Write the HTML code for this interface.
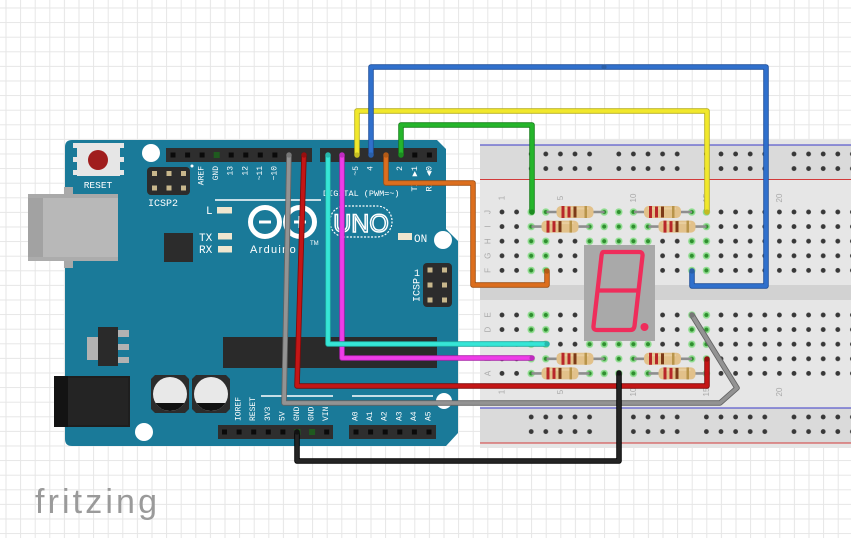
<!DOCTYPE html>
<html><head><meta charset="utf-8">
<style>html,body{margin:0;padding:0;background:#fff;overflow:hidden}svg{display:block}</style>
</head>
<body>
<svg width="851" height="538" viewBox="0 0 851 538" xmlns="http://www.w3.org/2000/svg">
<defs>
<pattern id="grid" x="5.5" y="7.5" width="14.6" height="14.6" patternUnits="userSpaceOnUse"><path d="M0 0.5H14.6M0.5 0V14.6" stroke="#e6e6e6" stroke-width="1" fill="none"/></pattern>
<pattern id="hu" x="494.7" y="204.7" width="14.6" height="14.6" patternUnits="userSpaceOnUse"><circle cx="7.3" cy="7.3" r="2.4" fill="#383838"/></pattern>
<pattern id="hl" x="494.7" y="307.7" width="14.6" height="14.6" patternUnits="userSpaceOnUse"><circle cx="7.3" cy="7.3" r="2.4" fill="#383838"/></pattern>
<pattern id="gu" x="494.7" y="204.7" width="14.6" height="14.6" patternUnits="userSpaceOnUse"><circle cx="7.3" cy="7.3" r="3.7" fill="#8fdc8f"/><circle cx="7.3" cy="7.3" r="2.1" fill="#2f8f2f"/></pattern>
<pattern id="gl" x="494.7" y="307.7" width="14.6" height="14.6" patternUnits="userSpaceOnUse"><circle cx="7.3" cy="7.3" r="3.7" fill="#8fdc8f"/><circle cx="7.3" cy="7.3" r="2.1" fill="#2f8f2f"/></pattern>
<pattern id="rt" x="523.9" y="146.7" width="87.6" height="14.6" patternUnits="userSpaceOnUse"><g fill="#383838"><circle cx="7.3" cy="7.3" r="2.4"/><circle cx="21.9" cy="7.3" r="2.4"/><circle cx="36.5" cy="7.3" r="2.4"/><circle cx="51.1" cy="7.3" r="2.4"/><circle cx="65.7" cy="7.3" r="2.4"/></g></pattern>
<pattern id="rb" x="523.9" y="409.7" width="87.6" height="14.6" patternUnits="userSpaceOnUse"><g fill="#383838"><circle cx="7.3" cy="7.3" r="2.4"/><circle cx="21.9" cy="7.3" r="2.4"/><circle cx="36.5" cy="7.3" r="2.4"/><circle cx="51.1" cy="7.3" r="2.4"/><circle cx="65.7" cy="7.3" r="2.4"/></g></pattern>
<rect id="pin" width="5" height="5" fill="#0a0a0a"/>
<rect id="tp" width="5" height="5" fill="#c8b78c"/>
<g id="res">
  <line x1="0" y1="0" x2="58" y2="0" stroke="#8e8e8e" stroke-width="2.6"/>
  <rect x="10" y="-6" width="37" height="12" rx="4.5" fill="#e2c18a"/>
  <rect x="14" y="-4.5" width="28" height="2" fill="#ecd3a6" opacity="0.7"/>
  <rect x="15" y="-6" width="3" height="12" fill="#b8262a"/>
  <rect x="21" y="-5.5" width="3" height="11" fill="#b8262a"/>
  <rect x="27" y="-5.5" width="3" height="11" fill="#7c3a18"/>
  <rect x="38" y="-6" width="2.5" height="12" fill="#b8944a"/>
</g>
</defs>

<!-- background grid -->
<rect width="851" height="538" fill="#fff"/>
<rect width="851" height="538" fill="url(#grid)"/>

<!-- ================= ARDUINO ================= -->
<path d="M72,140 H437 L446,149 V229 L458,241 V433 L446,446 H72 Q65,446 65,439 V147 Q65,140 72,140 Z" fill="#1a7a99"/>

<!-- USB -->
<rect x="64" y="187" width="9" height="8" fill="#a9a9a9"/>
<rect x="64" y="260" width="9" height="8" fill="#a9a9a9"/>
<rect x="28" y="194" width="90" height="67" fill="#b8b8b8"/>
<rect x="28" y="194" width="15" height="67" fill="#a2a2a2"/>
<rect x="28" y="194" width="90" height="4" fill="#a9a9a9"/>
<rect x="28" y="257" width="90" height="4" fill="#acacac"/>

<!-- reset -->
<g fill="#e6e6e6">
<rect x="73" y="143" width="4" height="5"/><rect x="73" y="157" width="4" height="5"/><rect x="73" y="170" width="4" height="5"/>
<rect x="120" y="143" width="4" height="5"/><rect x="120" y="157" width="4" height="5"/><rect x="120" y="170" width="4" height="5"/>
<rect x="77" y="143" width="43" height="33"/>
</g>
<circle cx="98" cy="160" r="10" fill="#a01d1d"/>
<text x="98" y="188" font-family="Liberation Mono, monospace" font-size="9.5" fill="#fff" text-anchor="middle">RESET</text>

<!-- mount holes -->
<circle cx="151" cy="153" r="9" fill="#fff"/>
<circle cx="443" cy="240" r="9" fill="#fff"/>
<circle cx="144" cy="432" r="9" fill="#fff"/>
<circle cx="444" cy="401" r="8" fill="#fff"/>

<!-- ICSP2 -->
<rect x="147" y="167" width="43" height="28" rx="4" fill="#2c2c2c"/>
<use href="#tp" x="152" y="171"/><use href="#tp" x="166.5" y="171"/><use href="#tp" x="181" y="171"/>
<use href="#tp" x="152" y="185.5"/><use href="#tp" x="166.5" y="185.5"/><use href="#tp" x="181" y="185.5"/>
<circle cx="192" cy="166" r="1.5" fill="#fff"/>
<text x="148" y="206" font-family="Liberation Mono, monospace" font-size="10" fill="#fff">ICSP2</text>

<!-- top headers -->
<rect x="166" y="148" width="146" height="14" fill="#2e2e2e"/>
<rect x="320" y="148" width="117" height="14" fill="#2e2e2e"/>
<use href="#pin" x="170.5" y="152.5"/><use href="#pin" x="185.1" y="152.5"/><use href="#pin" x="199.6" y="152.5"/>
<rect x="213.7" y="152" width="6" height="6" fill="#1f5a1f"/>
<use href="#pin" x="228.7" y="152.5"/><use href="#pin" x="243.3" y="152.5"/><use href="#pin" x="257.8" y="152.5"/><use href="#pin" x="272.4" y="152.5"/>
<use href="#pin" x="412.3" y="152.5"/><use href="#pin" x="426.9" y="152.5"/>
<g font-family="Liberation Mono, DejaVu Sans Mono, monospace" font-size="8" fill="#fff" text-anchor="end" dominant-baseline="central">
<text transform="translate(202.1,166) rotate(-90)">AREF</text>
<text transform="translate(216.7,166) rotate(-90)">GND</text>
<text transform="translate(231.2,166) rotate(-90)">13</text>
<text transform="translate(245.8,166) rotate(-90)">12</text>
<text transform="translate(260.3,166) rotate(-90)">~11</text>
<text transform="translate(274.9,166) rotate(-90)">~10</text>
<text transform="translate(356.6,166) rotate(-90)">~5</text>
<text transform="translate(371.2,166) rotate(-90)">4</text>
<text transform="translate(400.3,166) rotate(-90)">2</text>
<text transform="translate(414.8,166) rotate(-90)" font-size="8.5">TX ▶1</text>
<text transform="translate(429.4,166) rotate(-90)" font-size="8.5">RX ◀0</text>
</g>
<line x1="215" y1="200" x2="321" y2="200" stroke="#fff" stroke-width="1.5"/>
<text x="323" y="196" font-family="Liberation Mono, monospace" font-size="8.5" fill="#fff">DIGITAL (PWM=~)</text>

<!-- LEDs -->
<g font-family="Liberation Mono, monospace" font-size="11" fill="#fff">
<text x="206" y="214">L</text>
<text x="199" y="241">TX</text>
<text x="199" y="253">RX</text>
<text x="414" y="242">ON</text>
</g>
<g fill="#efe6cf">
<rect x="217" y="207" width="15" height="6.5"/>
<rect x="218" y="233" width="14" height="6.5"/>
<rect x="218" y="246" width="14" height="6.5"/>
<rect x="398" y="233" width="14" height="7"/>
</g>

<!-- 16U2 chip -->
<rect x="164" y="233" width="29" height="29" fill="#2c2c2c"/>

<!-- Arduino logo -->
<circle cx="265" cy="222" r="14.5" fill="none" stroke="#fff" stroke-width="5"/>
<circle cx="300" cy="222" r="14.5" fill="none" stroke="#fff" stroke-width="5"/>
<rect x="259" y="220.5" width="12" height="3" fill="#fff"/>
<rect x="294" y="220.5" width="12" height="3" fill="#fff"/>
<rect x="298.5" y="216" width="3" height="12" fill="#fff"/>
<text x="250" y="253" font-family="Liberation Sans, sans-serif" font-size="11" fill="#fff" letter-spacing="1.3">Arduino</text>
<text x="310" y="245" font-family="Liberation Sans, sans-serif" font-size="6" fill="#fff">TM</text>
<rect x="330" y="206" width="62" height="31" rx="15" fill="none" stroke="#fff" stroke-width="1.2" stroke-dasharray="2 1.5"/>
<text x="361" y="232" font-family="Liberation Sans, sans-serif" font-size="25" fill="none" stroke="#fff" stroke-width="1.5" text-anchor="middle">UNO</text>

<!-- ICSP right -->
<rect x="423" y="263" width="29" height="44" rx="4" fill="#2c2c2c"/>
<use href="#tp" x="427.5" y="267.5"/><use href="#tp" x="442" y="267.5"/>
<use href="#tp" x="427.5" y="282.5"/><use href="#tp" x="442" y="282.5"/>
<use href="#tp" x="427.5" y="297.5"/><use href="#tp" x="442" y="297.5"/>
<text x="414" y="276" font-family="Liberation Mono, monospace" font-size="10" fill="#fff">1</text>
<text transform="translate(418,290) rotate(-90)" font-family="Liberation Mono, monospace" font-size="10" fill="#fff" text-anchor="middle" dominant-baseline="central">ICSP</text>

<!-- regulator -->
<rect x="87" y="337" width="12" height="23" fill="#b2b2b2"/>
<rect x="118" y="330" width="11" height="7" fill="#b2b2b2"/>
<rect x="118" y="344" width="11" height="6" fill="#b2b2b2"/>
<rect x="118" y="357" width="11" height="6" fill="#b2b2b2"/>
<rect x="98" y="327" width="20" height="39" fill="#2a2a2a"/>

<!-- power jack -->
<rect x="54" y="376" width="76" height="51" fill="#1e1e1e"/>
<rect x="54" y="376" width="14" height="51" fill="#131313"/>
<rect x="68" y="378" width="60" height="47" fill="#242424"/>

<!-- capacitors -->
<path d="M155,375 H185 L189,379 V409 L185,413 H155 L151,409 V379 Z" fill="#2c2c2c"/>
<circle cx="170" cy="394" r="17" fill="#e8e8e8"/>
<path d="M155.6,403 A17,17 0 0 0 184.4,403 Z" fill="#111"/>
<path d="M196,375 H226 L230,379 V409 L226,413 H196 L192,409 V379 Z" fill="#2c2c2c"/>
<circle cx="211" cy="394" r="17" fill="#e8e8e8"/>
<path d="M196.6,403 A17,17 0 0 0 225.4,403 Z" fill="#111"/>

<!-- big chip -->
<rect x="223" y="337" width="214" height="31" fill="#2a2a2a"/>

<!-- bottom headers -->
<line x1="261" y1="396" x2="333" y2="396" stroke="#fff" stroke-width="1.5"/>
<line x1="352" y1="396" x2="433" y2="396" stroke="#fff" stroke-width="1.5"/>
<rect x="218" y="425" width="115" height="14" fill="#2e2e2e"/>
<rect x="349" y="425" width="87" height="14" fill="#2e2e2e"/>
<use href="#pin" x="222" y="429.5"/><use href="#pin" x="236.6" y="429.5"/><use href="#pin" x="251.2" y="429.5"/><use href="#pin" x="265.8" y="429.5"/><use href="#pin" x="280.4" y="429.5"/>
<rect x="294.5" y="429" width="6" height="6" fill="#1f5a1f"/>
<rect x="309.1" y="429" width="6" height="6" fill="#1f5a1f"/>
<use href="#pin" x="324.2" y="429.5"/>
<use href="#pin" x="353.5" y="429.5"/><use href="#pin" x="368.1" y="429.5"/><use href="#pin" x="382.7" y="429.5"/><use href="#pin" x="397.3" y="429.5"/><use href="#pin" x="411.9" y="429.5"/><use href="#pin" x="426.5" y="429.5"/>
<g font-family="Liberation Mono, monospace" font-size="8" fill="#fff" text-anchor="start" dominant-baseline="central">
<text transform="translate(239.1,421) rotate(-90)">IOREF</text>
<text transform="translate(253.7,421) rotate(-90)">RESET</text>
<text transform="translate(268.3,421) rotate(-90)">3V3</text>
<text transform="translate(282.9,421) rotate(-90)">5V</text>
<text transform="translate(297.5,421) rotate(-90)">GND</text>
<text transform="translate(312.1,421) rotate(-90)">GND</text>
<text transform="translate(326.7,421) rotate(-90)">VIN</text>
<text transform="translate(356,421) rotate(-90)">A0</text>
<text transform="translate(370.6,421) rotate(-90)">A1</text>
<text transform="translate(385.2,421) rotate(-90)">A2</text>
<text transform="translate(399.8,421) rotate(-90)">A3</text>
<text transform="translate(414.4,421) rotate(-90)">A4</text>
<text transform="translate(429,421) rotate(-90)">A5</text>
</g>

<!-- ================= BREADBOARD ================= -->
<rect x="480" y="140" width="380" height="308" fill="#e6e6e6"/>
<rect x="480" y="145" width="380" height="35" fill="#dadada"/>
<rect x="480" y="285" width="380" height="15" fill="#d2d2d2"/>
<rect x="480" y="408" width="380" height="35" fill="#dadada"/>
<line x1="480" y1="145" x2="851" y2="145" stroke="#3a3ac8" stroke-width="1"/>
<line x1="480" y1="179.5" x2="851" y2="179.5" stroke="#d23a3a" stroke-width="1"/>
<line x1="480" y1="408" x2="851" y2="408" stroke="#3a3ac8" stroke-width="1"/>
<line x1="480" y1="443" x2="851" y2="443" stroke="#d23a3a" stroke-width="1"/>

<rect x="494.7" y="204.7" width="360" height="73" fill="url(#hu)"/>
<rect x="494.7" y="307.7" width="360" height="73" fill="url(#hl)"/>
<rect x="523.9" y="146.7" width="330" height="29.2" fill="url(#rt)"/>
<rect x="523.9" y="409.7" width="330" height="29.2" fill="url(#rb)"/>
<!-- connected (green) columns -->
<rect x="523.9" y="204.7" width="29.2" height="73" fill="url(#gu)"/>
<rect x="582.3" y="204.7" width="73" height="73" fill="url(#gu)"/>
<rect x="684.5" y="204.7" width="29.2" height="73" fill="url(#gu)"/>
<rect x="523.9" y="307.7" width="29.2" height="73" fill="url(#gl)"/>
<rect x="582.3" y="307.7" width="73" height="73" fill="url(#gl)"/>
<rect x="684.5" y="307.7" width="29.2" height="73" fill="url(#gl)"/>

<!-- labels -->
<g font-family="Liberation Sans, sans-serif" font-size="8" fill="#a9a9a9" text-anchor="middle" dominant-baseline="central">
<text transform="translate(502,198) rotate(-90)">1</text>
<text transform="translate(560.4,198) rotate(-90)">5</text>
<text transform="translate(633.4,198) rotate(-90)">10</text>
<text transform="translate(706.4,198) rotate(-90)">15</text>
<text transform="translate(779.4,198) rotate(-90)">20</text>
<text transform="translate(502,392) rotate(-90)">1</text>
<text transform="translate(560.4,392) rotate(-90)">5</text>
<text transform="translate(633.4,392) rotate(-90)">10</text>
<text transform="translate(706.4,392) rotate(-90)">15</text>
<text transform="translate(779.4,392) rotate(-90)">20</text>
<text transform="translate(488,212) rotate(-90)">J</text>
<text transform="translate(488,226.6) rotate(-90)">I</text>
<text transform="translate(488,241.2) rotate(-90)">H</text>
<text transform="translate(488,255.8) rotate(-90)">G</text>
<text transform="translate(488,270.4) rotate(-90)">F</text>
<text transform="translate(488,315) rotate(-90)">E</text>
<text transform="translate(488,329.6) rotate(-90)">D</text>
<text transform="translate(488,344.2) rotate(-90)">C</text>
<text transform="translate(488,358.8) rotate(-90)">B</text>
<text transform="translate(488,373.4) rotate(-90)">A</text>
</g>

<!-- resistors -->
<use href="#res" x="546.5" y="212"/>
<use href="#res" x="531.5" y="226.6"/>
<use href="#res" x="634" y="212"/>
<use href="#res" x="648.5" y="226.6"/>
<use href="#res" x="546.5" y="358.8"/>
<use href="#res" x="531.5" y="373.4"/>
<use href="#res" x="634" y="358.8"/>
<use href="#res" x="648.5" y="373.4"/>

<!-- 7-segment display -->
<rect x="584" y="245" width="71" height="96" fill="#a9a9a9"/>
<path d="M603,252 H639 Q643,252 642.5,256 L634.5,326 Q634,330 630,330 H597 Q593,330 593.5,326 L601.5,256 Q602,252 603,252 Z M598,290.5 H638" fill="none" stroke="#ef2d5b" stroke-width="4.3" stroke-linejoin="round"/>
<circle cx="644.5" cy="327" r="4" fill="#ef2d5b"/>

<!-- ================= WIRES ================= -->
<g fill="none" stroke-linejoin="round" stroke-linecap="round">
<polyline points="357,155 357,111 707,111 707,212" stroke="#b5ad1c" stroke-width="5.5"/>
<polyline points="357,155 357,111 707,111 707,212" stroke="#f1e82c" stroke-width="3.8"/>
<polyline points="371,155 371,67 766,67 766,286 692,286 692,271" stroke="#1f4f99" stroke-width="5.5"/>
<polyline points="371,155 371,67 766,67 766,286 692,286 692,271" stroke="#3070cc" stroke-width="3.8"/>
<polyline points="401,155 401,125 532,125 532,212" stroke="#177f1a" stroke-width="5.5"/>
<polyline points="401,155 401,125 532,125 532,212" stroke="#25b52b" stroke-width="3.8"/>
<polyline points="386,155 386,183 473,183 473,285 547,285 547,271" stroke="#9e4e12" stroke-width="5.5"/>
<polyline points="386,155 386,183 473,183 473,285 547,285 547,271" stroke="#dc6e1e" stroke-width="3.8"/>
<polyline points="342,155 342,358 532,358" stroke="#a823a8" stroke-width="5.5"/>
<polyline points="342,155 342,358 532,358" stroke="#ee3ce8" stroke-width="3.8"/>
<polyline points="328,155 328,344 547,344" stroke="#1fa99f" stroke-width="5.5"/>
<polyline points="328,155 328,344 547,344" stroke="#36e6d6" stroke-width="3.8"/>
<polyline points="304,155 297,386 707,386 707,359" stroke="#7e0a0a" stroke-width="5.5"/>
<polyline points="304,155 297,386 707,386 707,359" stroke="#c41616" stroke-width="3.8"/>
<polyline points="289,155 284,403 720,403 737,388 692,315" stroke="#636363" stroke-width="5.5"/>
<polyline points="289,155 284,403 720,403 737,388 692,315" stroke="#939393" stroke-width="3.8"/>
<polyline points="297,432 297,461 619,461 619,373" stroke="#000" stroke-width="5.5"/>
<polyline points="297,432 297,461 619,461 619,373" stroke="#242424" stroke-width="3.8"/>
</g>
<!-- wire end dots -->
<g>
<circle cx="357" cy="155" r="2.6" fill="#c4bc22"/><circle cx="707" cy="212" r="2.6" fill="#c4bc22"/>
<circle cx="371" cy="155" r="2.6" fill="#2a5fa8"/><circle cx="692" cy="271" r="2.6" fill="#2a5fa8"/><circle cx="604" cy="67" r="2.6" fill="#2a5fa8"/>
<circle cx="401" cy="155" r="2.6" fill="#1c8c20"/><circle cx="532" cy="212" r="2.6" fill="#1c8c20"/>
<circle cx="386" cy="155" r="2.6" fill="#b35a16"/><circle cx="547" cy="271" r="2.6" fill="#b35a16"/>
<circle cx="342" cy="155" r="2.6" fill="#c02cc0"/><circle cx="532" cy="358" r="2.6" fill="#c02cc0"/>
<circle cx="328" cy="155" r="2.6" fill="#27b8ad"/><circle cx="547" cy="344" r="2.6" fill="#27b8ad"/>
<circle cx="304" cy="155" r="2.6" fill="#960f0f"/><circle cx="707" cy="359" r="2.6" fill="#960f0f"/>
<circle cx="289" cy="155" r="2.6" fill="#777"/><circle cx="692" cy="315" r="2.6" fill="#777"/>
<circle cx="297" cy="432" r="2.6" fill="#111"/><circle cx="619" cy="373" r="2.6" fill="#111"/>
</g>

<!-- fritzing logo -->
<text x="35" y="513" font-family="Liberation Sans, sans-serif" font-size="34" fill="#9a9a9a" textLength="122" lengthAdjust="spacing">fritzing</text>
</svg>
</body></html>
